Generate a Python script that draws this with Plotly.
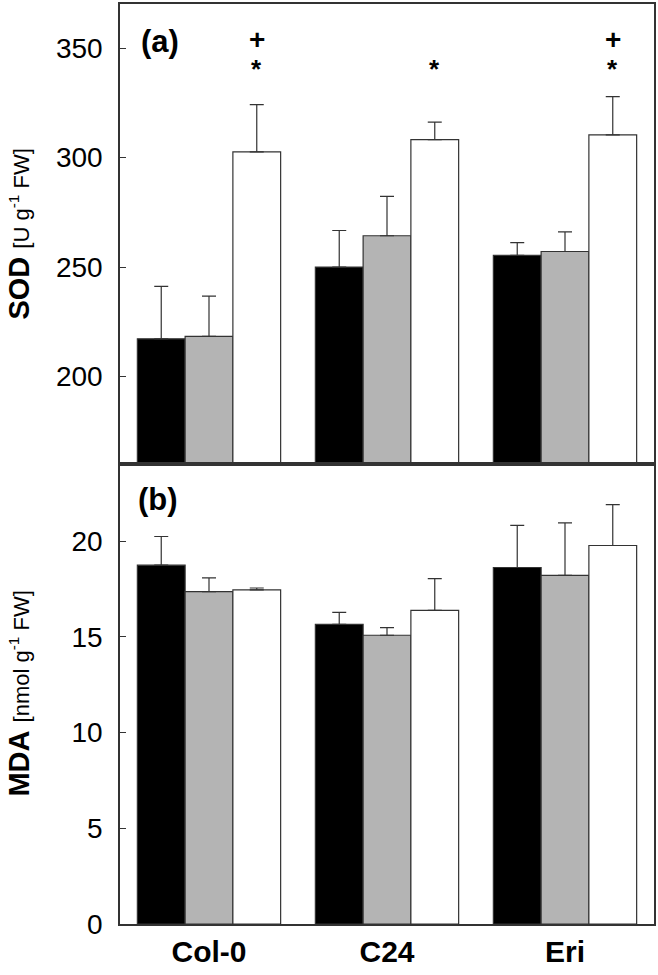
import plotly.graph_objects as go

# ---- data ----
categories = ["Col-0", "C24", "Eri"]

sod_black = [217.2, 250.0, 255.4]
sod_black_err = [24.0, 16.7, 5.8]
sod_gray = [218.3, 264.3, 257.1]
sod_gray_err = [18.4, 18.0, 9.0]
sod_white = [302.6, 308.2, 310.4]
sod_white_err = [21.6, 8.0, 17.5]

mda_black = [18.75, 15.66, 18.63]
mda_black_err = [1.5, 0.63, 2.2]
mda_gray = [17.37, 15.09, 18.22]
mda_gray_err = [0.72, 0.40, 2.74]
mda_white = [17.46, 16.39, 19.78]
mda_white_err = [0.10, 1.66, 2.14]

sig_plus = ["+", "", "+"]
sig_star = ["*", "*", "*"]

sod_ticks = [200, 250, 300, 350]
mda_ticks = [0, 5, 10, 15, 20]

sod_range = [160, 370.2]
mda_range = [0, 24.04]

# ---- styling ----
FONT = "Liberation Sans, Arial, sans-serif"
LINE = "#333333"
fills = ["#000000", "#b4b4b4", "#ffffff"]
names = ["Series 1", "Series 2", "Series 3"]

fig = go.Figure()

def add_bars(vals_list, errs_list, xa, ya):
    for vals, errs, col, nm in zip(vals_list, errs_list, fills, names):
        fig.add_trace(go.Bar(
            x=categories, y=vals, name=nm, xaxis=xa, yaxis=ya,
            marker=dict(color=col, line=dict(color=LINE, width=1.2)),
            error_y=dict(type="data", symmetric=False, array=errs,
                         arrayminus=[0] * len(errs), color=LINE,
                         thickness=1.2, width=7),
            showlegend=False,
        ))

add_bars([sod_black, sod_gray, sod_white],
         [sod_black_err, sod_gray_err, sod_white_err], "x", "y")
add_bars([mda_black, mda_gray, mda_white],
         [mda_black_err, mda_gray_err, mda_white_err], "x2", "y2")

axis_common = dict(showline=True, linecolor=LINE, linewidth=1.5, mirror=True,
                   showgrid=False, zeroline=False)

# labelled y axes: invisible outside ticks push labels away from the axis line
label_axis = dict(ticks="outside", ticklen=10, tickcolor="rgba(0,0,0,0)",
                  tickfont=dict(size=28, family=FONT))
# overlay y axes: visible inside tick marks, no labels
mark_axis = dict(ticks="inside", ticklen=6, tickcolor=LINE, tickwidth=1.2,
                 showticklabels=False, showline=False, showgrid=False,
                 zeroline=False)

fig.update_layout(
    width=658, height=975,
    margin=dict(l=120, r=2, t=4, b=51),
    paper_bgcolor="white", plot_bgcolor="white",
    barmode="group", bargap=0.195, bargroupgap=0,
    font=dict(family=FONT, color="#000000"),
    xaxis=dict(domain=[0, 1], anchor="y", showticklabels=False, ticks="",
               range=[-0.5, 2.5], **axis_common),
    yaxis=dict(domain=[0.5, 1], anchor="x", range=sod_range,
               tickvals=sod_ticks, **label_axis, **axis_common),
    yaxis3=dict(overlaying="y", anchor="x", range=sod_range,
                tickvals=sod_ticks, **mark_axis),
    xaxis2=dict(domain=[0, 1], anchor="y2", ticks="", range=[-0.5, 2.5],
                tickfont=dict(size=30, family=FONT),
                tickvals=categories,
                ticktext=["<b>%s</b>" % c for c in categories],
                **axis_common),
    yaxis2=dict(domain=[0, 0.5], anchor="x2", range=mda_range,
                tickvals=mda_ticks, **label_axis, **axis_common),
    yaxis4=dict(overlaying="y2", anchor="x2", range=mda_range,
                tickvals=mda_ticks, **mark_axis),
)

# invisible helper traces so the overlay (tick-mark) axes are drawn
fig.add_trace(go.Scatter(x=[categories[0]], y=[sod_ticks[0]], xaxis="x", yaxis="y3",
                         mode="markers", marker=dict(opacity=0), showlegend=False,
                         hoverinfo="skip"))
fig.add_trace(go.Scatter(x=[categories[0]], y=[mda_ticks[0]], xaxis="x2", yaxis="y4",
                         mode="markers", marker=dict(opacity=0), showlegend=False,
                         hoverinfo="skip"))

annotations = []
# panel labels
annotations.append(dict(text="<b>(a)</b>", xref="paper", yref="paper",
                        x=0.0746, y=0.9587, xanchor="center", yanchor="middle",
                        showarrow=False, font=dict(size=31, family=FONT)))
annotations.append(dict(text="<b>(b)</b>", xref="paper", yref="paper",
                        x=0.0709, y=0.4609, xanchor="center", yanchor="middle",
                        showarrow=False, font=dict(size=31, family=FONT)))
# axis titles
annotations.append(dict(
    text="<b>SOD</b> <span style='font-size:22px'>[U g<sup>-1</sup> FW]</span>",
    xref="paper", yref="paper", x=-0.19, y=0.75, textangle=-90,
    xanchor="center", yanchor="middle", showarrow=False,
    font=dict(size=29, family=FONT)))
annotations.append(dict(
    text="<b>MDA</b> <span style='font-size:22px'>[nmol g<sup>-1</sup> FW]</span>",
    xref="paper", yref="paper", x=-0.19, y=0.25, textangle=-90,
    xanchor="center", yanchor="middle", showarrow=False,
    font=dict(size=29, family=FONT)))
# significance marks over the third bar of each group
bar_w = (1 - 0.195) / 3
for i, (p, s) in enumerate(zip(sig_plus, sig_star)):
    xpos = i + bar_w
    if p:
        annotations.append(dict(text="<b>%s</b>" % p, xref="x", yref="paper",
                                x=xpos, y=0.961, xanchor="center", yanchor="middle",
                                showarrow=False, font=dict(size=28, family=FONT)))
    if s:
        annotations.append(dict(text="<b>%s</b>" % s, xref="x", yref="paper",
                                x=xpos, y=0.929, xanchor="center", yanchor="middle",
                                showarrow=False, font=dict(size=26, family=FONT)))

fig.update_layout(annotations=annotations)

fig.write_html("out.html", config={"displayModeBar": False},
               post_script="document.body.style.margin='0px';")
